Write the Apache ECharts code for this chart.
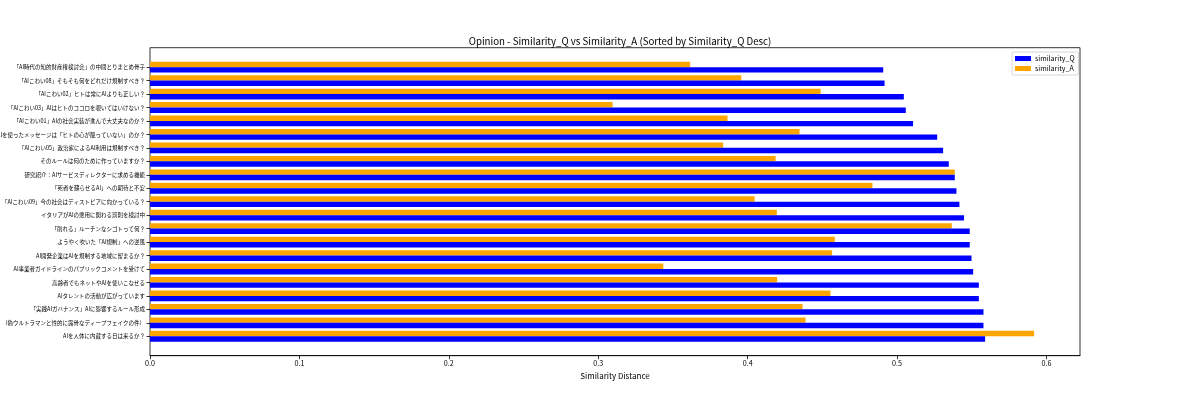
<!DOCTYPE html>
<html><head><meta charset="utf-8">
<script src="https://cdn.jsdelivr.net/npm/echarts@6/dist/echarts.min.js"></script>
<style>html,body{margin:0;padding:0;background:#fff}#c{width:1200px;height:400px}</style>
</head><body><div id="c"></div>
<script>
// categories listed bottom -> top (sorted by similarity_Q descending, largest at bottom)
const categories = [
  "AIを人体に内蔵する日は来るか？",
  "（偽ウルトラマンと性的に露骨なディープフェイクの件）",
  "「実践AIガバナンス」AIに影響するルール形成",
  "AIタレントの活動が広がっています",
  "高齢者でもネットやAIを使いこなせる",
  "AI事業者ガイドラインのパブリックコメントを受けて",
  "AI開発企業はAIを規制する地域に留まるか？",
  "ようやく吹いた「AI規制」への逆風",
  "「削れる」ルーチンなシゴトって何？",
  "イタリアがAIの悪用に関わる罰則を検討中",
  "「AIこわい09」今の社会はディストピアに向かっている？",
  "「死者を蘇らせるAI」への期待と不安",
  "研究紹介：AIサービスディレクターに求める機能",
  "そのルールは何のために作っていますか？",
  "「AIこわい05」政治家によるAI利用は規制すべき？",
  "「AIこわい04」AIを使ったメッセージは「ヒトの心が籠っていない」のか？",
  "「AIこわい01」AIの社会実装が進んで大丈夫なのか？",
  "「AIこわい03」AIはヒトのココロを覗いてはいけない？",
  "「AIこわい02」ヒトは常にAIよりも正しい？",
  "「AIこわい08」そもそも何をどれだけ規制すべき？",
  "「AI時代の知的財産権検討会」の中間とりまとめ骨子"
];
const similarityQ = [0.5589,0.5578,0.5578,0.5547,0.5547,0.5509,0.5498,0.5486,0.5486,0.5448,0.5417,0.5397,0.5386,0.5346,0.5308,0.5268,0.5107,0.5058,0.5045,0.4916,0.4907];
const similarityA = [0.5917,0.4387,0.4367,0.4554,0.4197,0.3435,0.4565,0.4583,0.5366,0.4195,0.4046,0.4835,0.5386,0.4187,0.3836,0.4347,0.3865,0.3096,0.4488,0.3957,0.3615];
const xTicks = [0,0.1,0.2,0.3,0.4,0.5,0.6];
const titleText = "Opinion - Similarity_Q vs Similarity_A (Sorted by Similarity_Q Desc)";
const xName = "Similarity Distance";

const FONT = "'Noto Sans CJK JP','Noto Sans',sans-serif";
const XMAX = 0.6224;
const chart = echarts.init(document.getElementById('c'), null, {renderer:'canvas'});
chart.setOption({
  animation:false,
  backgroundColor:'#fff',
  textStyle:{fontFamily:FONT},
  title:{text:titleText,left:615,top:31,textAlign:'center',
    textStyle:{fontSize:9.7,fontWeight:'normal',color:'#000',fontFamily:FONT}},
  legend:{data:['similarity_Q','similarity_A'],orient:'vertical',left:1012,top:52,
    icon:'rect',itemWidth:16,itemHeight:5,itemGap:3,
    borderColor:'#cccccc',borderWidth:0.8,borderRadius:2,padding:[3,4,3,3],
    textStyle:{fontSize:7,color:'#000',fontFamily:FONT,padding:[0,0,0,-1]}},
  grid:[
    {left:150,right:120,top:47.7,bottom:44.3,show:true,borderColor:'#000',borderWidth:0.8,
      backgroundColor:'transparent',containLabel:false,outerBoundsMode:'none'},
    {left:150,right:120,top:60.4,bottom:57,containLabel:false,outerBoundsMode:'none'}
  ],
  xAxis:[
    {gridIndex:0,type:'value',min:0,max:XMAX,
      axisLine:{show:true,lineStyle:{color:'#000',width:0.8}},
      axisTick:{show:true,length:3.5,customValues:xTicks,lineStyle:{color:'#000',width:0.8}},
      axisLabel:{customValues:xTicks,fontSize:7.2,color:'#000',margin:4,fontFamily:FONT,
        formatter:v=>v.toFixed(1)},
      splitLine:{show:false},
      name:xName,nameLocation:'middle',nameGap:14,
      nameTextStyle:{fontSize:8,color:'#000',fontFamily:FONT}},
    {gridIndex:1,type:'value',min:0,max:XMAX,show:false,splitLine:{show:false}}
  ],
  yAxis:[
    {gridIndex:0,type:'value',show:false,splitLine:{show:false}},
    {gridIndex:1,type:'category',data:categories,
      axisLine:{show:false},
      axisTick:{show:true,alignWithLabel:true,length:3.5,lineStyle:{color:'#000',width:0.8}},
      axisLabel:{fontSize:5.5,color:'#000',margin:5,fontFamily:FONT,interval:0},
      splitLine:{show:false}}
  ],
  series:[
    {name:'similarity_A',type:'bar',xAxisIndex:1,yAxisIndex:1,data:similarityA,
      barWidth:5.4,barGap:'0%',itemStyle:{color:'#ffa500'}},
    {name:'similarity_Q',type:'bar',xAxisIndex:1,yAxisIndex:1,data:similarityQ,
      barWidth:5.4,barGap:'0%',itemStyle:{color:'#0000ff'}}
  ]
});
</script></body></html>
